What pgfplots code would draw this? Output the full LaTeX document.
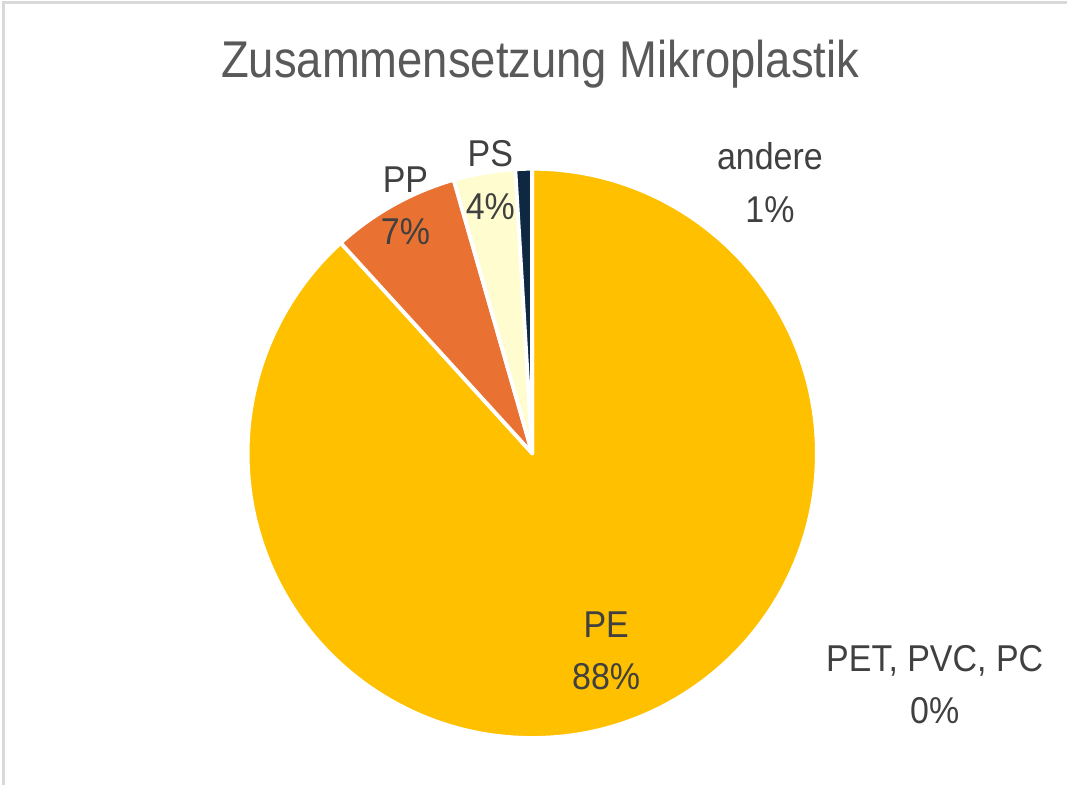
\documentclass[border=0pt]{standalone}
\usepackage{pgfplots}
\usepackage{pgfplotstable}
\pgfplotsset{compat=1.18}
\usepackage{fontspec}
\setmainfont{Liberation Sans}
\definecolor{slice0}{HTML}{FFC000}
\definecolor{slice1}{HTML}{E97132}
\definecolor{slice2}{HTML}{FFFDCF}
\definecolor{slice3}{HTML}{0E2841}
\definecolor{slice4}{HTML}{A6A6A6}
\definecolor{txt}{HTML}{404040}
\definecolor{ttl}{HTML}{595959}
\definecolor{frame}{HTML}{D9D9D9}
\pgfplotstableread{
label value
PE 88.25
PP 7.30
PS 3.50
andere 0.95
PET 0.0
}\piedata
\newcommand\tall[1]{\scalebox{1}[1.1]{#1}}
\begin{document}
\begin{tikzpicture}
\begin{axis}[scale only axis, width=1068pt, height=786pt,
  xmin=0, xmax=1068, ymin=0, ymax=786, axis lines=none, clip=false]
\path (axis cs:0,0) rectangle (axis cs:1068,786);
\xdef\cum{0}
\pgfplotstableforeachcolumnelement{value}\of\piedata\as\v{%
  \pgfmathsetmacro\sa{90-3.6*\cum}%
  \pgfmathsetmacro\tmp{\cum+\v}\xdef\cum{\tmp}%
  \pgfmathsetmacro\ea{90-3.6*\cum}%
  \edef\temp{\noexpand\fill[slice\pgfplotstablerow, draw=white, line width=3.8pt, line join=round]
    (axis cs:533,332) -- ++(\sa:285pt) arc[start angle=\sa, end angle=\ea, radius=285pt] -- cycle;}%
  \temp
}
\draw[frame, line width=3pt] (axis cs:4,0) -- (axis cs:4,783.5) -- (axis cs:1068,783.5);
\node[anchor=base, text=ttl, font=\fontsize{45}{54}\selectfont] at (axis cs:541,708) {\scalebox{1.01}[1.15]{Zusammensetzung Mikroplastik}};
\begin{scope}[every node/.style={anchor=base, text=txt, font=\fontsize{34}{40}\selectfont}]
\node at (axis cs:607,148) {\tall{PE}};
\node at (axis cs:607,96) {\tall{88\%}};
\node at (axis cs:406,593) {\tall{PP}};
\node at (axis cs:406,541) {\tall{7\%}};
\node at (axis cs:491,619) {\tall{PS}};
\node at (axis cs:491,566) {\tall{4\%}};
\node at (axis cs:771,616) {\tall{andere}};
\node at (axis cs:771,563) {\tall{1\%}};
\node at (axis cs:936,114) {\tall{PET, PVC, PC}};
\node at (axis cs:936,61) {\tall{0\%}};
\end{scope}
\end{axis}
\end{tikzpicture}
\end{document}
